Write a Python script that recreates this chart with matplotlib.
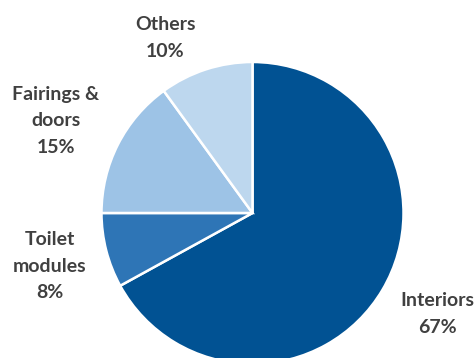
import matplotlib.pyplot as plt

# data
segments = ['Interiors', 'Toilet\nmodules', 'Fairings &\ndoors', 'Others']
shares = [67, 8, 15, 10]
colors = ['#015293', '#2e75b6', '#9dc3e6', '#bdd7ee']

# label positions in pixel coords (x, y from top)
label_pos = [(437, 314), (50, 266), (56, 121), (165, 38)]

W, H = 476, 358
fig = plt.figure(figsize=(W / 100, H / 100), dpi=100)
ax = fig.add_axes([0, 0, 1, 1])

ax.pie(shares, colors=colors, startangle=90, counterclock=False,
       center=(252.5, H - 213), radius=151,
       wedgeprops=dict(edgecolor='white', linewidth=1.8))

for name, val, (x, y) in zip(segments, shares, label_pos):
    ax.text(x, H - y, '%s\n%d%%' % (name, val), ha='center', va='center',
            fontsize=14, fontweight='bold', color='#404040',
            family='Lato', linespacing=1.65)

ax.set_xlim(0, W)
ax.set_ylim(0, H)
ax.set_aspect('equal')
ax.axis('off')

fig.savefig('out.png', dpi=100)
